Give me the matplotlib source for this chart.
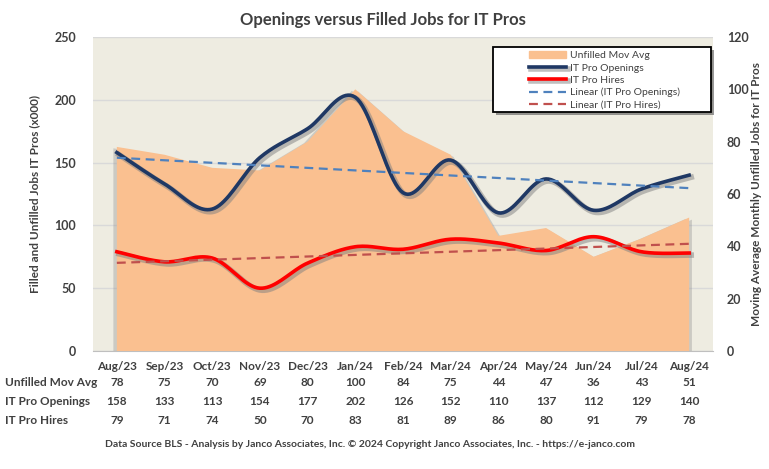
import numpy as np
import matplotlib.pyplot as plt
import matplotlib.patheffects as pe
from matplotlib import transforms

plt.rcParams['font.family'] = ['Lato', 'DejaVu Sans']

months = ['Aug/23', 'Sep/23', 'Oct/23', 'Nov/23', 'Dec/23', 'Jan/24', 'Feb/24',
          'Mar/24', 'Apr/24', 'May/24', 'Jun/24', 'Jul/24', 'Aug/24']
unfilled = [78, 75, 70, 69, 80, 100, 84, 75, 44, 47, 36, 43, 51]
openings = [158, 133, 113, 154, 177, 202, 126, 152, 110, 137, 112, 129, 140]
hires = [79, 71, 74, 50, 70, 83, 81, 89, 86, 80, 91, 79, 78]


def smooth(x, y, n=20):
    # Catmull-Rom style smoothing, like Excel's smoothed line
    x = np.asarray(x, float)
    y = np.asarray(y, float)
    px = np.concatenate([[x[0]], x, [x[-1]]])
    py = np.concatenate([[y[0]], y, [y[-1]]])
    xs, ys = [], []
    t = np.linspace(0, 1, n, endpoint=False)
    for i in range(1, len(px) - 2):
        p0, p1, p2, p3 = py[i - 1], py[i], py[i + 1], py[i + 2]
        q0, q1, q2, q3 = px[i - 1], px[i], px[i + 1], px[i + 2]
        c1y = p1 + (p2 - p0) / 6
        c2y = p2 - (p3 - p1) / 6
        c1x = q1 + (q2 - q0) / 6
        c2x = q2 - (q3 - q1) / 6
        b0 = (1 - t) ** 3
        b1 = 3 * (1 - t) ** 2 * t
        b2 = 3 * (1 - t) * t ** 2
        b3 = t ** 3
        xs.append(b0 * q1 + b1 * c1x + b2 * c2x + b3 * q2)
        ys.append(b0 * p1 + b1 * c1y + b2 * c2y + b3 * p2)
    xs.append([x[-1]])
    ys.append([y[-1]])
    return np.concatenate(xs), np.concatenate(ys)


W, H = 769, 469
fig = plt.figure(figsize=(W / 100, H / 100), dpi=100)
L, R, T, B = 93, 713, 37, 351
ax = fig.add_axes([L / W, 1 - B / H, (R - L) / W, (B - T) / H])
ax2 = ax.twinx()

x = np.arange(len(months))
txt = '#404040'

ax.set_facecolor('#EEECE1')
ax.set_xlim(-0.5, len(months) - 0.5)
ax.set_ylim(0, 250)
ax.set_yticks(range(0, 251, 50))
ax.yaxis.grid(True, color='#D9D9D9', lw=1)
ax.set_axisbelow(True)
ax.set_xticks([])
for s in ax.spines.values():
    s.set_visible(False)
for s in ax2.spines.values():
    s.set_visible(False)
ax.spines['bottom'].set_visible(True)
ax.spines['bottom'].set_color('#BFBFBF')
ax.tick_params(axis='y', length=0, pad=12, labelsize=9, labelcolor=txt)
for lab in ax.get_yticklabels():
    lab.set_fontweight('bold')

# unfilled area on secondary axis
ax2.set_ylim(0, 120)
ax2.set_yticks(range(0, 121, 20))
ax2.tick_params(axis='y', length=0, pad=10, labelsize=9, labelcolor=txt)
for lab in ax2.get_yticklabels():
    lab.set_fontweight('bold')
ax2.fill_between(x, unfilled, 0, color='#FAC090', lw=0, zorder=1,
                 path_effects=[pe.SimplePatchShadow(offset=(-2.5, -1), shadow_rgbFace='#8C8C8C', alpha=0.35),
                               pe.SimplePatchShadow(offset=(2, -1.5), shadow_rgbFace='#8C8C8C', alpha=0.35),
                               pe.Normal()])

# lines drawn on ax2 in primary units via conversion
scale = 120 / 250
sx, sy = smooth(x, openings)
l1, = ax2.plot(sx, sy * scale, color='#1F3864', lw=2.6, zorder=4,
               path_effects=[pe.SimpleLineShadow(offset=(1.5, -1.5), shadow_color='#808080', alpha=0.5, linewidth=4),
                             pe.Normal()])
hx, hy = smooth(x, hires)
l2, = ax2.plot(hx, hy * scale, color='#FF0000', lw=2.6, zorder=4,
               path_effects=[pe.SimpleLineShadow(offset=(1.5, -1.5), shadow_color='#808080', alpha=0.5, linewidth=4),
                             pe.Normal()])

# linear trendlines
po = np.polyfit(x, openings, 1)
ph = np.polyfit(x, hires, 1)
l3, = ax2.plot(x, np.polyval(po, x) * scale, color='#4F81BD', lw=1.6, ls=(0, (4, 2.5)), zorder=5)
l4, = ax2.plot(x, np.polyval(ph, x) * scale, color='#C0504D', lw=1.6, ls=(0, (4, 2.5)), zorder=5)

# legend frame drawn separately (wide box, entries centred)
box = plt.Rectangle((493 / W, 1 - 112 / H), 218 / W, 65 / H, transform=fig.transFigure,
                    facecolor='white', edgecolor='black', lw=1.3, zorder=9,
                    path_effects=[pe.SimplePatchShadow(offset=(2.5, -2.5), shadow_rgbFace='#555555', alpha=0.6),
                                  pe.Normal()])
fig.add_artist(box)

area_handle = plt.Rectangle((0, 0), 1, 1, color='#FAC090')
leg = fig.legend([area_handle, l1, l2, l3, l4],
                 ['Unfilled Mov Avg', 'IT Pro Openings', 'IT Pro Hires',
                  'Linear (IT Pro Openings)', 'Linear (IT Pro Hires)'],
                 loc='upper left', bbox_to_anchor=(527 / W, 1 - 49 / H), fontsize=7.5,
                 frameon=False, handlelength=3.5, labelspacing=0.28, borderpad=0.2,
                 handletextpad=0.45, borderaxespad=0)
for t in leg.get_texts():
    t.set_color(txt)
leg.set_zorder(10)

fig.text(383 / W, 1 - 20 / H, 'Openings versus Filled Jobs for IT Pros',
         ha='center', va='center', fontsize=12, fontweight='bold', color=txt)
fig.text(35 / W, 1 - 194 / H, 'Filled and Unfilled Jobs IT Pros (x000)', rotation=90,
         ha='center', va='center', fontsize=8.5, fontweight='bold', color=txt)
fig.text(757 / W, 1 - 194 / H, 'Moving Average Monthly Unfilled Jobs for IT Pros', rotation=90,
         ha='center', va='center', fontsize=8.5, fontweight='bold', color=txt)

# data table below the chart
tr = transforms.blended_transform_factory(ax.transData, fig.transFigure)
rows = [('', months, 366), ('Unfilled Mov Avg', unfilled, 382),
        ('IT Pro Openings', openings, 401), ('IT Pro Hires', hires, 420)]
for name, vals, yp in rows:
    if name:
        fig.text(5 / W, 1 - yp / H, name, ha='left', va='center',
                 fontsize=8.5, fontweight='bold', color=txt)
    for xi, v in zip(x, vals):
        fig.text(xi, 1 - yp / H, str(v), transform=tr, ha='center', va='center',
                 fontsize=8.5, fontweight='bold', color=txt)

fig.text(370 / W, 1 - 444 / H,
         'Data Source BLS - Analysis by Janco Associates, Inc. \u00a9 2024 Copyright Janco Associates, Inc. - https://e-janco.com',
         ha='center', va='center', fontsize=7.5, fontweight='bold', color=txt)

fig.savefig('out.png', dpi=100)
